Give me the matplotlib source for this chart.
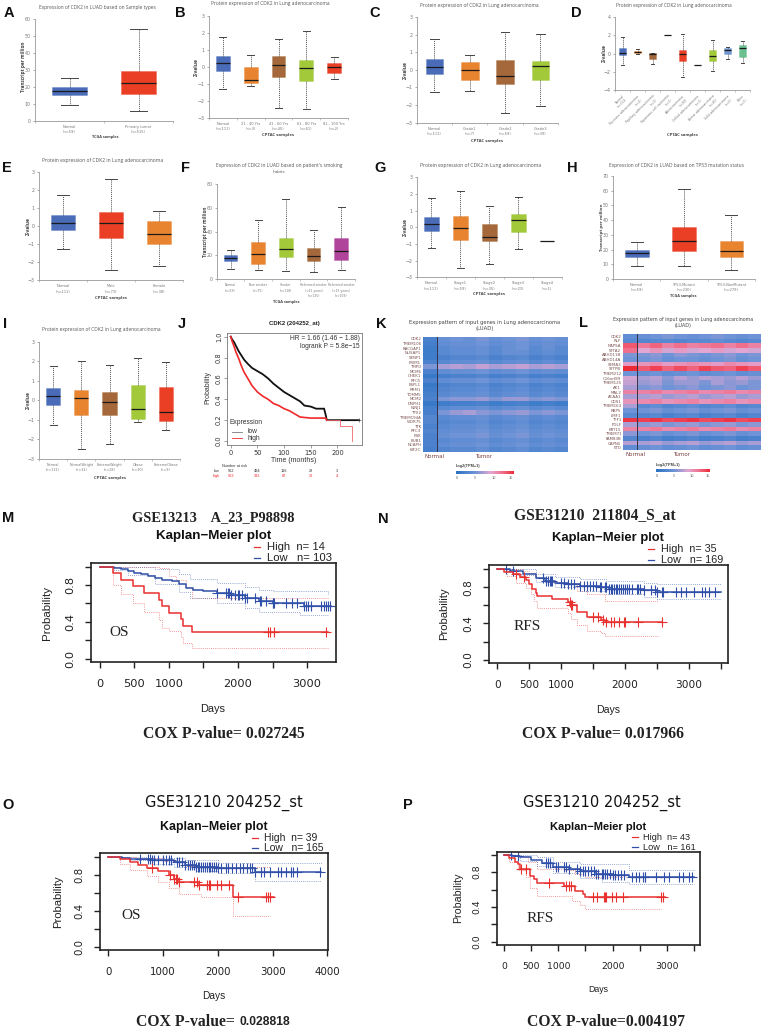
import numpy as np
import matplotlib
matplotlib.use("Agg")
import matplotlib.pyplot as plt
from matplotlib.colors import LinearSegmentedColormap

W, H = 762, 1028
SANS = "Liberation Sans"
SERIF = "Liberation Serif"

# ---------- box panels: (low whisker, q1, median, q3, high whisker) ----------
A_labels = ["Normal\n(n=59)", "Primary tumor\n(n=515)"]
A_boxes = [(9, 15, 17.5, 20, 25), (6, 16, 22, 29.5, 54)]
B_labels = ["Normal\n(n=111)", "21 - 40 Yrs\n(n=3)", "41 - 60 Yrs\n(n=45)", "61 - 80 Yrs\n(n=61)", "81 - 100 Yrs\n(n=2)"]
B_boxes = [(-1.28, -0.22, 0.2, 0.62, 1.77), (-1.1, -0.92, -0.75, -0.03, 0.67), (-2.4, -0.62, 0.08, 0.62, 1.65),
           (-2.48, -0.82, -0.08, 0.43, 2.12), (-0.7, -0.38, -0.03, 0.25, 0.57)]
C_labels = ["Normal\n(n=111)", "Grade1\n(n=7)", "Grade2\n(n=59)", "Grade3\n(n=39)"]
C_boxes = [(-1.27, -0.22, 0.17, 0.63, 1.77), (-1.22, -0.58, 0, 0.43, 0.85), (-2.47, -0.82, -0.35, 0.58, 2.15),
           (-2.07, -0.6, 0.22, 0.5, 2.02)]
D_labels = ["Normal\n(n=111)", "Mucinous adenocarcinoma\n(n=2)", "Papillary adenocarcinoma\n(n=3)",
            "Squamous cell carcinoma\n(n=1)", "Adenocarcinoma\n(n=83)", "Colloid adenocarcinoma\n(n=1)",
            "Acinar adenocarcinoma\n(n=20)", "Solid adenocarcinoma\n(n=5)", "Other\n(n=5)"]
D_boxes = [(-1.3, -0.2, 0.1, 0.6, 1.75), (0, 0.05, 0.2, 0.3, 0.45), (-1.15, -0.6, -0.02, 0.05, 0.1),
           (2, 2, 2, 2, 2), (-2.5, -0.8, -0.1, 0.4, 2.1), (-1.3, -1.3, -1.3, -1.3, -1.3),
           (-1.95, -0.8, -0.3, 0.35, 1.45), (-0.65, 0, 0.4, 0.6, 0.75), (-1.0, -0.4, 0.65, 0.95, 1.4)]
E_labels = ["Normal\n(n=111)", "Male\n(n=73)", "Female\n(n=38)"]
E_boxes = [(-1.25, -0.22, 0.17, 0.62, 1.73), (-2.45, -0.65, 0.18, 0.77, 2.65), (-2.22, -1.0, -0.45, 0.3, 0.85)]
F_labels = ["Normal\n(n=59)", "Non smoker\n(n=75)", "Smoker\n(n=118)",
            "Reformed smoker\n(<15 years)\n(n=135)", "Reformed smoker\n(>15 years)\n(n=159)"]
F_boxes = [(9, 15, 17.5, 20, 25), (7.5, 13, 21, 31, 50), (7, 19, 25.5, 34.5, 67), (6, 15, 19.5, 26, 41),
           (8, 16, 23.5, 34.5, 61)]
G_labels = ["Normal\n(n=111)", "Stage1\n(n=59)", "Stage2\n(n=35)", "Stage3\n(n=23)", "Stage4\n(n=1)"]
G_boxes = [(-1.27, -0.22, 0.17, 0.63, 1.73), (-2.47, -0.75, -0.02, 0.7, 2.15), (-2.22, -0.8, -0.6, 0.22, 1.25),
           (-1.3, -0.3, 0.42, 0.8, 1.8), (-0.85, -0.85, -0.85, -0.85, -0.85)]
H_labels = ["Normal\n(n=59)", "TP53-Mutant\n(n=230)", "TP53-NonMutant\n(n=279)"]
H_boxes = [(9, 15, 17.5, 20, 25), (8.5, 19, 25.5, 35, 61), (6, 15, 19, 26, 43.5)]
I_labels = ["Normal\n(n=111)", "NormalWeight\n(n=32)", "ExtremeWeight\n(n=28)", "Obese\n(n=30)", "ExtremeObese\n(n=9)"]
I_boxes = [(-1.28, -0.22, 0.2, 0.62, 1.77), (-2.47, -0.75, 0.1, 0.55, 2.0), (-2.25, -0.75, -0.1, 0.42, 1.8),
           (-1.1, -0.95, -0.42, 0.8, 2.15), (-1.5, -1.05, -0.6, 0.7, 1.95)]

BLUE, ORANGE, BROWN, GREEN, RED, MAG, TEAL, LBLUE, OLIVE, DARK = (
    "#4a6cb8", "#e8842f", "#a5683a", "#a2c93a", "#ea3f25", "#b0449a", "#6bc08f", "#6f95d0", "#8a8a30", "#333333")

# ---------- panel J: Kaplan-Meier ----------
J_low_t = [0, 3, 6, 10, 15, 20, 25, 32, 40, 50, 60, 70, 80, 90, 100, 110, 120, 130, 138, 150, 160, 175, 178, 180, 240]
J_low_s = [1, .97, .95, .91, .86, .82, .78, .74, .70, .67, .64, .60, .55, .51, .47, .44, .41, .38, .34, .33, .31, .31, .25, .20, .20]
J_high_t = [0, 3, 6, 10, 15, 20, 25, 32, 40, 50, 60, 70, 80, 90, 100, 110, 120, 130, 150, 178, 180, 205, 205, 228, 228]
J_high_s = [1, .95, .91, .85, .79, .72, .66, .60, .53, .47, .43, .40, .36, .34, .31, .29, .26, .23, .22, .22, .20, .20, .14, .14, 0]
J_risk_low = ["962", "494", "116", "29", "3"]
J_risk_high = ["963", "333", "87", "26", "4"]
J_risk_t = [0, 50, 100, 150, 200]

# ---------- heatmaps: each row = normal value, then tumor values across the panel ----------
K_genes = ["CDK2", "TMEM106", "RACGAP1", "NUSAP1", "SENP1", "PRIM1", "TMPO", "MCM6", "CHEK1", "RFC5", "ESPL1",
           "RRM1", "TOMM5", "MCM2", "DNPH1", "NINJ1", "TPX2", "TMEM194A", "WDR75", "TTK", "RFC3", "PBK", "BUB1",
           "NCAPH", "KIF2C"]
K_matrix = [
    [2.5, 4.5, 5.0, 4.5, 5.5, 4.5, 5.0, 5.5, 4.5, 5.0, 4.5],
    [2.0, 4.0, 4.5, 4.5, 5.0, 4.0, 4.5, 5.0, 4.0, 4.5, 4.0],
    [1.5, 3.5, 4.0, 4.0, 4.5, 3.5, 4.5, 5.0, 3.5, 4.5, 3.5],
    [1.5, 3.5, 4.0, 4.0, 4.5, 3.5, 4.5, 4.5, 3.5, 4.0, 3.5],
    [1.5, 2.5, 3.0, 3.0, 3.5, 2.5, 3.0, 3.5, 2.5, 3.0, 2.5],
    [2.5, 3.5, 4.0, 4.0, 4.5, 3.5, 4.0, 4.5, 3.5, 4.0, 3.5],
    [5.5, 7.0, 7.5, 7.0, 8.0, 7.0, 7.5, 8.0, 7.0, 7.5, 7.0],
    [2.5, 4.0, 4.5, 4.5, 5.0, 4.0, 4.5, 5.0, 4.0, 4.5, 4.0],
    [1.0, 2.0, 2.5, 2.5, 3.0, 2.0, 2.5, 3.0, 2.0, 2.5, 2.0],
    [2.5, 4.0, 4.5, 4.5, 5.0, 4.0, 4.5, 5.0, 4.0, 4.5, 4.0],
    [1.0, 2.5, 3.0, 3.0, 3.5, 2.5, 3.0, 3.5, 2.5, 3.0, 2.5],
    [1.5, 3.0, 3.5, 3.5, 4.0, 3.0, 3.5, 4.0, 3.0, 3.5, 3.0],
    [2.0, 3.5, 4.0, 4.0, 4.5, 3.5, 4.0, 4.5, 3.5, 4.0, 3.5],
    [2.5, 5.5, 6.0, 6.0, 6.5, 5.5, 6.5, 6.5, 5.5, 6.0, 5.5],
    [1.0, 1.5, 2.0, 2.0, 2.5, 1.5, 2.0, 2.5, 1.5, 2.0, 1.5],
    [2.0, 3.5, 4.0, 4.0, 4.5, 3.5, 4.0, 4.5, 3.5, 4.0, 3.5],
    [2.0, 5.5, 6.5, 7.0, 6.0, 5.5, 6.0, 6.5, 5.5, 6.0, 5.5],
    [3.0, 3.5, 4.0, 4.0, 4.5, 3.5, 4.0, 4.5, 3.5, 4.0, 3.5],
    [3.0, 3.0, 3.5, 3.5, 4.0, 3.0, 3.5, 4.0, 3.0, 3.5, 3.0],
    [2.5, 3.5, 4.0, 4.0, 4.5, 3.5, 4.0, 4.5, 3.5, 4.0, 3.5],
    [3.0, 4.0, 4.5, 4.5, 5.0, 4.0, 4.5, 5.0, 4.0, 4.5, 4.0],
    [2.5, 4.5, 5.0, 5.0, 5.5, 4.5, 5.0, 5.5, 4.5, 5.0, 4.5],
    [2.5, 3.5, 4.0, 4.0, 4.5, 3.5, 4.0, 4.5, 3.5, 4.0, 3.5],
    [2.5, 4.0, 4.5, 4.5, 5.0, 4.0, 4.5, 5.0, 4.0, 4.5, 4.0],
    [2.0, 3.0, 3.5, 3.5, 4.0, 3.0, 3.5, 4.0, 3.0, 3.5, 3.0],
]
L_genes = ["CDK2", "RLF", "NAPSA", "SFTA2", "ABHD11B", "ABHD14A", "SEMA3", "SFTPB", "TMEM212", "C16orf89", "TMEM125",
           "AK1", "MAL2", "ACAA1", "CDS1", "TMEM163", "RBP5", "LMF1", "TFF1", "PGLF", "KRT15", "TMEM71", "FAM83B",
           "CAPN5", "ETD"]
L_matrix = [
    [4.0, 4.5, 5.0, 5.5, 5.0, 4.5, 5.0, 5.5, 5.0, 4.5, 5.0],
    [3.5, 3.0, 3.5, 3.5, 3.0, 3.5, 3.5, 4.0, 3.5, 3.0, 3.5],
    [13.0, 11.5, 12.5, 11.0, 12.0, 11.0, 11.5, 12.0, 11.0, 12.0, 11.0],
    [12.0, 9.0, 10.0, 8.5, 9.5, 8.5, 9.0, 9.5, 8.5, 9.0, 8.5],
    [5.5, 5.5, 6.0, 5.0, 6.0, 5.5, 5.0, 5.5, 6.0, 5.0, 5.5],
    [5.0, 5.0, 5.5, 4.5, 5.0, 5.0, 4.5, 5.0, 5.5, 4.5, 5.0],
    [9.5, 10.0, 10.5, 9.5, 10.0, 10.5, 10.0, 9.5, 10.5, 10.0, 9.5],
    [15.0, 13.0, 14.0, 12.5, 13.5, 12.5, 14.0, 13.0, 12.5, 14.0, 13.0],
    [5.0, 4.5, 5.0, 4.0, 4.5, 5.0, 4.0, 4.5, 5.0, 4.0, 4.5],
    [8.5, 7.0, 7.5, 6.0, 7.5, 6.5, 7.5, 7.0, 6.5, 7.5, 6.5],
    [8.0, 6.5, 7.0, 5.5, 6.5, 6.5, 5.5, 7.0, 6.0, 6.5, 5.5],
    [7.0, 5.5, 6.0, 5.0, 5.5, 6.0, 5.0, 5.5, 6.0, 5.0, 5.5],
    [11.0, 11.0, 11.5, 10.5, 11.0, 11.5, 10.5, 11.0, 11.5, 10.5, 11.0],
    [7.0, 7.0, 7.5, 6.5, 7.0, 7.5, 6.5, 7.0, 7.5, 6.5, 7.0],
    [10.0, 10.5, 11.0, 10.0, 10.5, 11.0, 10.0, 10.5, 11.0, 10.0, 10.5],
    [7.0, 3.5, 4.0, 3.0, 3.5, 4.0, 3.0, 3.5, 4.0, 3.0, 3.5],
    [5.0, 5.0, 5.5, 4.5, 5.0, 5.5, 4.5, 5.0, 5.5, 4.5, 5.0],
    [3.5, 3.0, 3.5, 2.5, 3.0, 3.5, 2.5, 3.0, 3.5, 2.5, 3.0],
    [14.5, 14.0, 14.5, 13.5, 14.0, 14.5, 13.5, 14.0, 14.5, 13.5, 14.0],
    [7.0, 6.0, 6.5, 5.5, 6.0, 6.5, 5.5, 6.0, 6.5, 5.5, 6.0],
    [11.0, 11.0, 11.5, 10.5, 11.0, 11.5, 10.5, 11.0, 11.5, 10.5, 11.0],
    [6.0, 5.0, 5.5, 4.5, 5.0, 5.5, 4.5, 5.0, 5.5, 4.5, 5.0],
    [3.0, 2.5, 3.0, 2.0, 2.5, 3.0, 2.0, 2.5, 3.0, 2.0, 2.5],
    [7.5, 7.0, 7.5, 6.5, 7.0, 7.5, 6.5, 7.0, 7.5, 6.5, 7.0],
    [4.0, 4.5, 5.0, 4.0, 4.5, 5.0, 4.0, 4.5, 5.0, 4.0, 4.5],
]
HEAT_TICKS = [0, 5, 10, 15]

# ---------- GEO Kaplan-Meier panels ----------
M_red_t = [0, 190, 300, 480, 640, 860, 900, 1000, 1170, 1210, 1340, 3300]
M_red_s = [1, .93, .86, .79, .71, .64, .57, .50, .43, .36, .29, .29]
M_red_up_t = [0, 850, 1000, 1100, 1250, 1340, 3300]
M_red_up_s = [1, .98, .90, .85, .78, .66, .66]
M_red_lo_t = [0, 190, 300, 480, 640, 860, 900, 1000, 1170, 1210, 1340, 3300]
M_red_lo_s = [1, .80, .70, .60, .51, .42, .33, .30, .24, .17, .12, .12]
M_blue_t = [0, 200, 300, 400, 500, 600, 700, 800, 900, 1050, 1150, 1250, 1350, 1500, 1700, 1900, 2100, 2300, 2500, 2800, 2950, 3350]
M_blue_s = [1, .99, .97, .95, .93, .92, .90, .88, .86, .84, .81, .77, .75, .74, .71, .69, .66, .63, .61, .60, .57, .57]
M_blue_up_t = [0, 400, 800, 1150, 1300, 1700, 2100, 2300, 2500, 3300]
M_blue_up_s = [1, 1, .97, .92, .87, .82, .78, .75, .73, .70]
M_blue_lo_t = [0, 200, 400, 800, 1150, 1300, 1700, 2100, 2300, 2900, 3300]
M_blue_lo_s = [1, .96, .91, .81, .72, .66, .61, .55, .51, .47, .47]
M_red_cens = [2430, 2470, 2520, 3280]
M_blue_cens = [1700, 1830, 1850, 1870, 1900, 1950, 2000, 2020, 2060, 2100, 2130, 2250, 2320, 2340, 2400, 2500, 2510,
               2520, 2700, 2780, 2850, 2950, 2980, 3010, 3060, 3200, 3240, 3270, 3300, 3340]
N_red_t = [0, 100, 250, 350, 450, 500, 550, 600, 620, 850, 1100, 1140, 1250, 1400, 1620, 1680, 2570]
N_red_s = [1, .97, .94, .91, .88, .83, .78, .74, .70, .67, .64, .60, .53, .47, .44, .41, .41]
N_red_up_t = [0, 200, 400, 500, 600, 800, 1100, 1250, 1400, 1680, 2520]
N_red_up_s = [1, 1, .98, .96, .90, .86, .85, .76, .72, .65, .65]
N_red_lo_t = [0, 150, 300, 450, 520, 580, 620, 1100, 1150, 1250, 1400, 1620, 1680, 2520]
N_red_lo_s = [1, .92, .85, .79, .72, .65, .57, .51, .45, .38, .32, .29, .26, .26]
N_blue_t = [0, 200, 400, 600, 750, 900, 1100, 1300, 1600, 1750, 2300, 2500, 3500]
N_blue_s = [1, .98, .94, .90, .87, .85, .83, .81, .80, .78, .77, .75, .75]
N_blue_up_t = [0, 300, 600, 900, 1300, 1700, 2300, 2500, 3500]
N_blue_up_s = [1, 1, .95, .91, .89, .87, .85, .83, .83]
N_blue_lo_t = [0, 300, 600, 900, 1300, 1700, 2300, 2500, 3500]
N_blue_lo_s = [1, .93, .86, .80, .76, .72, .69, .67, .67]
N_red_cens = [300, 420, 1130, 1150, 1170, 1500, 1580, 1650, 1700, 1780, 1830, 1900, 1980, 2000, 2200, 2570]
N_blue_cens = [140, 240, 720, 760, 790, 820, 840, 860, 1000, 1050, 1100, 1150, 1200, 1300, 1350, 1400, 1450, 1500, 1550,
               1600, 1630, 1680, 1700, 1750, 1780, 1800, 1820, 1850, 1880, 1900, 1930, 1960, 2000, 2030, 2060, 2100, 2180,
               2200, 2240, 2300, 2400, 2460, 2500, 2570, 2600, 2800, 2880, 2950, 3080, 3200, 3250, 3320, 3400]
O_red_t = [0, 220, 400, 550, 700, 900, 1100, 1200, 1300, 1650, 2270, 3020]
O_red_s = [1, .97, .94, .91, .87, .84, .80, .75, .72, .69, .55, .55]
O_red_up_t = [0, 500, 1000, 1400, 1700, 2950]
O_red_up_s = [1, .99, .95, .90, .88, .88]
O_red_lo_t = [0, 220, 400, 700, 900, 1100, 1300, 1700, 2270, 2950]
O_red_lo_s = [1, .92, .85, .78, .72, .65, .58, .55, .34, .34]
O_blue_t = [0, 250, 400, 800, 1200, 1400, 1600, 2000, 2680, 3880]
O_blue_s = [1, .99, .97, .96, .94, .91, .88, .87, .83, .83]
O_blue_up_t = [0, 800, 1400, 2000, 3880]
O_blue_up_s = [1, .99, .96, .93, .94]
O_blue_lo_t = [0, 400, 800, 1200, 1600, 2000, 2680, 3880]
O_blue_lo_s = [1, .96, .92, .88, .84, .82, .73, .73]
O_red_cens = [800, 1130, 1200, 1240, 1260, 1300, 1560, 1620, 1660, 1800, 1830, 1860, 1990, 2060, 2200, 2370, 2880, 2910, 2950]
O_blue_cens = [570, 730, 760, 800, 830, 900, 1000, 1050, 1100, 1150, 1250, 1300, 1350, 1400, 1450, 1500, 1530, 1560,
               1600, 1630, 1660, 1700, 1730, 1760, 1800, 1830, 1860, 1900, 1930, 1960, 2000, 2050, 2150, 2190, 2250,
               2330, 2400, 2460, 2530, 2580, 2620, 2680, 2780, 2850, 2950, 3100, 3150, 3250, 3330, 3380, 3450, 3860]
P_red_t = [0, 100, 200, 250, 300, 430, 470, 550, 600, 1100, 1300, 1450, 1500, 2960]
P_red_s = [1, .96, .92, .89, .84, .84, .76, .72, .67, .64, .58, .55, .52, .52]
P_red_up_t = [0, 300, 450, 600, 1100, 1300, 1500, 2900]
P_red_up_s = [1, .99, .92, .84, .83, .78, .75, .73]
P_red_lo_t = [0, 100, 250, 400, 470, 600, 1150, 1250, 1400, 1500, 2900]
P_red_lo_s = [1, .92, .82, .74, .62, .53, .53, .47, .42, .38, .38]
P_blue_t = [0, 150, 300, 500, 700, 900, 1200, 1400, 1700, 2000, 2300, 3500]
P_blue_s = [1, .99, .97, .94, .90, .86, .84, .81, .78, .77, .75, .75]
P_blue_up_t = [0, 300, 600, 900, 1400, 2300, 3500]
P_blue_up_s = [1, 1, .97, .92, .89, .83, .83]
P_blue_lo_t = [0, 300, 600, 900, 1400, 1800, 2300, 3500]
P_blue_lo_s = [1, .93, .87, .79, .73, .69, .66, .66]
P_red_cens = [310, 400, 830, 1150, 1190, 1240, 1640, 1720, 1840, 1860, 1880, 1990, 2060, 2200, 2900, 2930]
P_blue_cens = [130, 250, 780, 810, 840, 960, 1000, 1100, 1150, 1200, 1350, 1400, 1450, 1500, 1550, 1600, 1650, 1700,
               1730, 1800, 1830, 1860, 1900, 1950, 2000, 2050, 2100, 2150, 2210, 2350, 2430, 2480, 2560, 2590, 2600,
               2800, 2950, 3030, 3230, 3290, 3400, 3470]

# ---------------------------------------------------------------------------
fig = plt.figure(figsize=(W / 100, H / 100), dpi=100)
fig.patch.set_facecolor("white")
rnd = fig.canvas.get_renderer()


def px_axes(l, t, r, b):
    return fig.add_axes([l / W, 1 - b / H, (r - l) / W, (b - t) / H])


def put(x, y, s, size=5, ha="center", va="center", fit=None, **kw):
    kw.setdefault("family", SANS)
    t = fig.text(x / W, 1 - y / H, s, fontsize=size, ha=ha, va=va, **kw)
    if fit:
        w = t.get_window_extent(rnd)
        extent = w.height if kw.get("rotation") == 90 else w.width
        t.set_fontsize(size * fit / extent)
    return t


def box_panel(box, labels, boxes, colors, ylim, yticks, label_rot=0, label_size=2.6):
    ax = px_axes(*box)
    stats = [dict(whislo=b[0], q1=b[1], med=b[2], q3=b[3], whishi=b[4], fliers=[]) for b in boxes]
    art = ax.bxp(stats, positions=range(len(boxes)), widths=0.5, patch_artist=True, showfliers=False,
                 boxprops=dict(linewidth=0.5), medianprops=dict(color="#1a1a1a", linewidth=0.9),
                 whiskerprops=dict(color="#555555", linewidth=0.7, linestyle=(0, (1, 1))),
                 capprops=dict(color="#444444", linewidth=0.7), capwidths=0.25)
    for p, c in zip(art["boxes"], colors):
        p.set_facecolor(c)
        p.set_edgecolor(matplotlib.colors.to_rgba(c, 0.45))
    ax.set_xlim(-0.5, len(boxes) - 0.5)
    ax.set_ylim(*ylim)
    ax.set_yticks(yticks)
    ax.set_xticks(range(len(boxes)))
    ax.set_xticks(np.arange(len(boxes) + 1) - 0.5, minor=True)
    if label_rot:
        ax.set_xticklabels(labels, rotation=label_rot, ha="right", rotation_mode="anchor", linespacing=1.2)
    else:
        ax.set_xticklabels(labels, linespacing=1.5)
    ax.tick_params(axis="x", which="major", length=0, labelsize=label_size, labelcolor="#777777", pad=2.8)
    ax.tick_params(axis="x", which="minor", length=1.2, width=0.4, color="#999999")
    ax.tick_params(axis="y", length=1.6, width=0.5, color="#888888", labelsize=3.4, labelcolor="#777777", pad=1.5)
    for s in ("top", "right"):
        ax.spines[s].set_visible(False)
    for s in ("left", "bottom"):
        ax.spines[s].set_color("#999999")
        ax.spines[s].set_linewidth(0.6)
    ax.patch.set_alpha(0)
    return ax


Z3 = list(range(-3, 4))
box_panel((35, 19, 173, 120.7), A_labels, A_boxes, [BLUE, RED], (0, 60), range(0, 61, 10))
box_panel((209, 15.7, 348, 118), B_labels, B_boxes, [BLUE, ORANGE, BROWN, GREEN, RED], (-3, 3), Z3)
box_panel((416.7, 17, 558, 122.7), C_labels, C_boxes, [BLUE, ORANGE, BROWN, GREEN], (-3, 3), Z3)
box_panel((615, 16.7, 750, 90.3), D_labels, D_boxes,
          [BLUE, ORANGE, BROWN, OLIVE, RED, DARK, GREEN, LBLUE, TEAL], (-4, 4), [-4, -2, 0, 2, 4], label_rot=45,
          label_size=2.2)
box_panel((39, 172.3, 183, 280.3), E_labels, E_boxes, [BLUE, RED, ORANGE], (-3, 3), Z3)
box_panel((216.7, 184, 355, 279.3), F_labels, F_boxes, [BLUE, ORANGE, GREEN, BROWN, MAG], (0, 80), range(0, 81, 20),
          label_size=2.2)
box_panel((417, 177.3, 561.7, 277.3), G_labels, G_boxes, [BLUE, ORANGE, BROWN, GREEN, DARK], (-3, 3), Z3)
box_panel((613, 176, 755, 279), H_labels, H_boxes, [BLUE, RED, ORANGE], (0, 70), range(0, 71, 10))
box_panel((39, 341.7, 180, 459), I_labels, I_boxes, [BLUE, ORANGE, BROWN, GREEN, RED], (-3, 3), Z3, label_size=2.4)

TITLE_COL = "#555555"
PE = "Protein expression of CDK2 in Lung adenocarcinoma"
for x, y, s, w in [(97, 7.3, "Expression of CDK2 in LUAD based on Sample types", 120), (270, 4, PE, 122),
                   (479.3, 5.7, PE, 123), (674.3, 5.3, PE, 118), (103, 160.7, PE, 125),
                   (279, 165, "Expression of CDK2 in LUAD based on patient's smoking", 130),
                   (480.7, 166, PE, 126), (676.7, 165, "Expression of CDK2 in LUAD based on TP53 mutation status", 138),
                   (101.7, 329, PE, 123)]:
    put(x, y, s, fit=w, color=TITLE_COL, family="Open Sans")
put(279, 171.7, "habits", fit=13, color=TITLE_COL, family="Open Sans")

for x, y, s, w in [(105, 137, "TCGA samples", 27), (277.7, 135, "CPTAC samples", 32), (487, 140.7, "CPTAC samples", 32),
                   (682, 135, "CPTAC samples", 31), (111, 297.7, "CPTAC samples", 32), (286.7, 302, "TCGA samples", 27),
                   (489, 293.7, "CPTAC samples", 32), (683.7, 295.7, "TCGA samples", 27),
                   (110, 478.3, "CPTAC samples", 32)]:
    put(x, y, s, fit=w, color="#444444", family="Open Sans", weight="bold")
for x, y, s, h in [(23, 67, "Transcript per million", 50), (196.7, 66.7, "Z-value", 18), (405, 70, "Z-value", 18),
                   (604, 53, "Z-value", 18), (28, 226, "Z-value", 18), (205.7, 231.7, "Transcript per million", 50),
                   (405, 227, "Z-value", 18), (602, 227, "Transcript per million", 48), (28, 400, "Z-value", 18)]:
    put(x, y, s, fit=h, color="#444444", family="Open Sans", weight="bold", rotation=90)

# ---------- panel J ----------
ax = px_axes(226.7, 333.3, 362, 444.7)
ax.plot(J_low_t, J_low_s, color="#111111", lw=1.3, solid_joinstyle="miter")
ax.plot(J_high_t[:21], J_high_s[:21], color="#f0282a", lw=1.2)
ax.plot(J_high_t[20:], J_high_s[20:], color="#f0686a", lw=0.6)
ax.set_xlim(-7.5, 246)
ax.set_ylim(-0.035, 1.032)
ax.plot(J_low_t[-1:], J_low_s[-1:], "+", color="#333333", ms=2.5, mew=0.4)
ax.set_xticks([0, 50, 100, 150, 200])
ax.set_yticks([0, .2, .4, .6, .8, 1])
ax.set_yticklabels(["0.0", "0.2", "0.4", "0.6", "0.8", "1.0"], rotation=90, va="center")
ax.tick_params(labelsize=4.8, length=2, width=0.4, color="#555555", labelcolor="#333333", pad=1.5)
for s in ax.spines.values():
    s.set_color("#777777")
    s.set_linewidth(0.6)
put(360, 339, "HR = 1.66 (1.46 \u2212 1.88)", 4.8, ha="right", color="#333333")
put(360, 346, "logrank P = 5.8e\u221215", 4.8, ha="right", color="#333333")
put(229, 423, "Expression", 4.8, ha="left", color="#333333")
ax.plot([3, 22], [.09, .09], color="#777777", lw=0.6)
ax.plot([3, 22], [.03, .03], color="#f0282a", lw=0.6)
put(247, 431.5, "low", 4.8, ha="left", color="#333333")
put(247, 438, "high", 4.8, ha="left", color="#333333")
put(294, 323.3, "CDK2 (204252_at)", fit=52, weight="bold", color="#222222")
put(208, 388, "Probability", 5, rotation=90, color="#333333")
put(294, 460.7, "Time (months)", 5, color="#333333")
put(235, 466, "Number at risk", 2.8, color="#333333")
put(216.5, 471, "low", 2.8, color="#333333")
put(216.5, 475.7, "high", 2.8, color="#f0282a")
for t, a, b in zip(J_risk_t, J_risk_low, J_risk_high):
    put(230.7 + t * 0.533, 471, a, 2.8, color="#333333")
    put(230.7 + t * 0.533, 475.7, b, 2.8, color="#f0282a")

# ---------- heatmaps ----------
hm_cmap = LinearSegmentedColormap.from_list(
    "hm", [(0, "#2b72c4"), (0.33, "#6d93d6"), (0.6, "#e2a6d2"), (0.8, "#f06f8c"), (1, "#ee2a35")])


def heat(box, split_px, genes, matrix):
    l, t, r, b = box
    ax = px_axes(*box)
    m = np.array(matrix)
    n = m.shape[1] - 1
    edges = np.r_[l, np.linspace(split_px, r, n + 1)]
    ax.pcolormesh(edges, np.arange(m.shape[0] + 1), m, cmap=hm_cmap, vmin=0, vmax=15, shading="flat")
    ax.invert_yaxis()
    ax.axvline(split_px, color="#333344", lw=0.7)
    ax.set_xlim(l, r)
    ax.set_xticks([])
    ax.set_yticks(np.arange(m.shape[0]) + 0.5)
    ax.set_yticklabels(genes)
    ax.tick_params(axis="y", length=0, labelsize=2.9, labelcolor="#7a5050", pad=1.5)
    for s in ax.spines.values():
        s.set_visible(False)


def heat_bar(l, r, t, b, tick_px, title_y, lab_y):
    ax = px_axes(l, t, r, b)
    ax.imshow(np.linspace(0, 1, 128)[None, :], cmap=hm_cmap, aspect="auto", extent=(0, 1, 0, 1))
    ax.axis("off")
    put(l, title_y, "Log2(TPM+1)", 2.8, ha="left", weight="bold", color="#444444")
    for p, v in zip(tick_px, HEAT_TICKS):
        put(p, lab_y, str(v), 2.9, color="#666666")


heat((423.3, 336.7, 567.7, 451.7), 437.3, K_genes, K_matrix)
heat((623.3, 334, 760.7, 450), 637.3, L_genes, L_matrix)
heat_bar(455.7, 513.3, 471, 474.3, [457, 475, 494, 511], 466, 478)
heat_bar(656, 710, 469, 472.3, [657, 674, 692, 708], 464.7, 476)
for x, y, w, s in [(484.3, 322.7, 153, "Expression pattern of input genes in Lung adenocarcinoma"),
                   (682.7, 319.3, 143, "Expression pattern of input genes in Lung adenocarcinoma")]:
    put(x, y, s, fit=w, family="DejaVu Sans", color="#444444")
put(484.3, 328.3, "(LUAD)", 3.8, family="DejaVu Sans", color="#444444")
put(682.7, 325, "(LUAD)", 3.6, family="DejaVu Sans", color="#444444")
put(424, 456, "Normal", 4, ha="left", family="DejaVu Sans", color="#7a4040")
put(475, 456, "Tumor", 4, ha="left", family="DejaVu Sans", color="#7a4040")
put(625, 454, "Normal", 4, ha="left", family="DejaVu Sans", color="#7a4040")
put(672.7, 454, "Tumor", 4, ha="left", family="DejaVu Sans", color="#7a4040")

# ---------- GEO KM ----------
KM_RED, KM_BLUE = "#e8302f", "#2f4fa8"


def km(box, xlim, ylim, xticks, xlabs, red, blue, red_c, blue_c, tick_size):
    ax = px_axes(*box)
    for (t, s, ut, us, lt, ls), col in ((red, KM_RED), (blue, KM_BLUE)):
        ax.step(ut, us, where="post", color=col, lw=0.6, ls=(0, (1, 1.5)), alpha=0.65)
        ax.step(lt, ls, where="post", color=col, lw=0.6, ls=(0, (1, 1.5)), alpha=0.65)
    for (t, s, *_), col, cen in ((blue, KM_BLUE, blue_c), (red, KM_RED, red_c)):
        ax.step(t, s, where="post", color=col, lw=1.1)
        ys = [s[np.searchsorted(t, c, side="right") - 1] for c in cen]
        ax.plot(cen, ys, "+", color=col, ms=7, mew=0.8)
    ax.set_xlim(*xlim)
    ax.set_ylim(*ylim)
    ax.set_xticks(xticks)
    ax.set_xticklabels(xlabs)
    ax.set_yticks([0, .2, .4, .6, .8, 1])
    ax.set_yticklabels(["0.0", "", "0.4", "", "0.8", ""], rotation=90, va="center")
    ax.tick_params(axis="x", length=4.5, width=1, labelsize=tick_size, pad=7.5, color="#222222", labelcolor="#222222")
    ax.tick_params(axis="y", length=4.5, width=1, labelsize=tick_size, pad=6.5, color="#222222", labelcolor="#222222")
    for sp in ax.spines.values():
        sp.set_linewidth(1.2)
        sp.set_color("#222222")


def km_text(cfg):
    put(*cfg["title"], fit=cfg["title_w"], weight=cfg.get("title_w8", "bold"), family=cfg.get("title_f", SERIF),
        color=cfg.get("title_c", "#222222"))
    put(*cfg["km"], "Kaplan\u2212Meier plot", fit=cfg["km_w"], weight="bold", color="#111111")
    lx, tx, y1, y2 = cfg["leg"]
    size = None
    for y, s, col in ((y1, cfg["high"], KM_RED), (y2, cfg["low"], KM_BLUE)):
        fig.add_artist(plt.Line2D([(lx - 3) / W, (lx + 3) / W], [1 - y / H] * 2, color=col, lw=0.9))
        if size is None:
            size = put(tx, y, s, 8, ha="left", color="#222222", fit=cfg["leg_w"]).get_fontsize()
        else:
            put(tx, y, s, size, ha="left", color="#222222")
    put(*cfg["prob"], "Probability", 8, rotation=90, color="#222222", fit=cfg["prob_h"])
    put(*cfg["days"], "Days", 8, color="#222222", fit=cfg["days_w"])
    put(*cfg["tag"], family=SERIF, size=11, color="#222222")


km((91, 562.7, 336, 662.3), (-130, 3420), (-0.04, 1.043), range(0, 3001, 500), ["0", "500", "1000", "", "2000", "", "3000"],
   (M_red_t, M_red_s, M_red_up_t, M_red_up_s, M_red_lo_t, M_red_lo_s),
   (M_blue_t, M_blue_s, M_blue_up_t, M_blue_up_s, M_blue_lo_t, M_blue_lo_s), M_red_cens, M_blue_cens, 8.2)
km((489, 565, 727.7, 663.3), (-130, 3605), (-0.04, 1.044), range(0, 3501, 500), ["0", "500", "1000", "", "2000", "", "3000", ""],
   (N_red_t, N_red_s, N_red_up_t, N_red_up_s, N_red_lo_t, N_red_lo_s),
   (N_blue_t, N_blue_s, N_blue_up_t, N_blue_up_s, N_blue_lo_t, N_blue_lo_s), N_red_cens, N_blue_cens, 7.6)
km((100, 852.7, 328.3, 950.3), (-152, 4018), (-0.04, 1.044), range(0, 4001, 1000), ["0", "1000", "2000", "3000", "4000"],
   (O_red_t, O_red_s, O_red_up_t, O_red_up_s, O_red_lo_t, O_red_lo_s),
   (O_blue_t, O_blue_s, O_blue_up_t, O_blue_up_s, O_blue_lo_t, O_blue_lo_s), O_red_cens, O_blue_cens, 7.4)
km((496.7, 851.7, 700.3, 945.3), (-134, 3615), (-0.04, 1.035), range(0, 3501, 500), ["0", "500", "1000", "", "2000", "", "3000", ""],
   (P_red_t, P_red_s, P_red_up_t, P_red_up_s, P_red_lo_t, P_red_lo_s),
   (P_blue_t, P_blue_s, P_blue_up_t, P_blue_up_s, P_blue_lo_t, P_blue_lo_s), P_red_cens, P_blue_cens, 6.7)

km_text(dict(title=(213, 518, "GSE13213    A_23_P98898"), title_w=163, km=(214, 535.7), km_w=117,
             leg=(257, 267, 547, 557.7), high="High  n= 14", low="Low   n= 103", leg_w=58,
             prob=(46.7, 612.7), prob_h=54, days=(213, 709), days_w=25, tag=(119, 632, "OS")))
km_text(dict(title=(595, 515, "GSE31210  211804_S_at"), title_w=163, km=(608, 538), km_w=114,
             leg=(650.7, 660.7, 549.3, 560), high="High  n= 35", low="Low   n= 169", leg_w=56,
             prob=(444.3, 614), prob_h=53, days=(607.7, 710), days_w=24, tag=(526.7, 626.7, "RFS")))
km_text(dict(title=(224, 803, "GSE31210 204252_st"), title_w=158, title_w8="normal", title_f="DejaVu Sans", title_c="#111111",
             km=(214, 827), km_w=109, leg=(255, 264, 837.7, 848), high="High  n= 39", low="Low   n= 165", leg_w=54,
             prob=(58, 901.7), prob_h=53, days=(214, 996), days_w=23, tag=(130.7, 915.7, "OS")))
km_text(dict(title=(602, 803, "GSE31210 204252_st"), title_w=158, title_w8="normal", title_f="DejaVu Sans", title_c="#111111",
             km=(598, 826.7), km_w=98, leg=(635, 643, 837, 847), high="High  n= 43", low="Low   n= 161", leg_w=47,
             prob=(458, 898), prob_h=50, days=(598, 990), days_w=20, tag=(540, 918, "RFS")))

put(224, 734, "COX P-value= 0.027245", fit=163, family=SERIF, weight="bold", color="#222222")
put(602.7, 734, "COX P-value= 0.017966", fit=163, family=SERIF, weight="bold", color="#222222")
put(136, 1021.7, "COX P-value=", ha="left", fit=100, family=SERIF, weight="bold", color="#222222")
put(240, 1021.7, "0.028818", ha="left", fit=52, weight="bold", color="#222222")
put(606, 1021.7, "COX P-value=0.004197", fit=159, family=SERIF, weight="bold", color="#222222")

# ---------- panel letters ----------
for s, x, y in [("A", 9, 13), ("B", 180, 13), ("C", 375, 13), ("D", 576.7, 13), ("E", 7, 168), ("F", 185, 168),
                ("G", 380, 168), ("H", 572.7, 168), ("I", 5, 324), ("J", 182, 324), ("K", 381.7, 324), ("L", 583, 323),
                ("M", 8, 518), ("N", 383, 519), ("O", 8, 805), ("P", 408, 805)]:
    put(x, y, s, 10.5, weight="bold", color="#111111")

fig.savefig("out.png", dpi=100)
